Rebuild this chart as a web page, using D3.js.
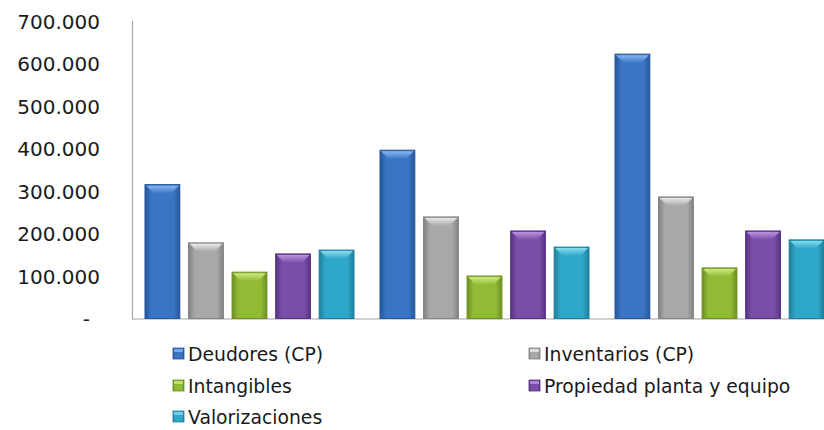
<!DOCTYPE html>
<html>
<head>
<meta charset="utf-8">
<script src="https://cdn.jsdelivr.net/npm/d3@7"></script>
<style>
  html, body { margin: 0; padding: 0; background: #ffffff; }
  svg { display: block; }
</style>
</head>
<body>
<div id="chart"></div>
<script>
// ---- data ----
const categories = ["Periodo 1", "Periodo 2", "Periodo 3"];
const seriesNames = ["Deudores (CP)", "Inventarios (CP)", "Intangibles", "Propiedad planta y equipo", "Valorizaciones"];
const deudores    = [315000, 396000, 622000];
const inventarios = [178000, 239000, 286000];
const intangibles = [109000, 100000, 119000];
const propiedad   = [152000, 206000, 206000];
const valorizaciones = [161000, 168000, 185000];
const yTicks = [0, 100000, 200000, 300000, 400000, 500000, 600000, 700000];

const seriesValues = [deudores, inventarios, intangibles, propiedad, valorizaciones];
const colors = [
  { base: "#3b74c2", light: "#86b7f0", dark: "#25579a" },
  { base: "#a8a8a8", light: "#e8e8e8", dark: "#828282" },
  { base: "#92bb35", light: "#cde880", dark: "#6c8f21" },
  { base: "#7a4ea6", light: "#b993e0", dark: "#583483" },
  { base: "#2ea7c8", light: "#86dbef", dark: "#1e7e99" }
];

const W = 824, H = 430;
const svg = d3.select("#chart").append("svg").attr("width", W).attr("height", H);
const defs = svg.append("defs");

colors.forEach((c, i) => {
  const g = defs.append("linearGradient").attr("id", "bar" + i)
    .attr("x1", "0").attr("x2", "1").attr("y1", "0").attr("y2", "0");
  g.append("stop").attr("offset", "0%").attr("stop-color", c.dark);
  g.append("stop").attr("offset", "18%").attr("stop-color", c.base);
  g.append("stop").attr("offset", "82%").attr("stop-color", c.base);
  g.append("stop").attr("offset", "100%").attr("stop-color", c.dark);
  const t = defs.append("linearGradient").attr("id", "top" + i)
    .attr("x1", "0").attr("x2", "0").attr("y1", "0").attr("y2", "1");
  t.append("stop").attr("offset", "0%").attr("stop-color", c.light);
  t.append("stop").attr("offset", "100%").attr("stop-color", c.base);
});

const x0 = d3.scaleBand().domain(categories).range([132, 837]).paddingInner(0).paddingOuter(0);
const x1 = d3.scaleBand().domain(seriesNames).range([13, 222]).paddingInner(0.2).paddingOuter(0);
const y = d3.scaleLinear().domain([0, 700000]).range([318.5, 21]);

// y axis labels
const fmt = v => v === 0 ? "-" : d3.format(",.0f")(v / 1000).replace(/,/g, ".") + ".000";
const yAxis = d3.axisLeft(y).tickValues(yTicks).tickFormat(fmt).tickSize(0).tickPadding(0);
const yg = svg.append("g").attr("transform", "translate(100,0)").call(yAxis);
yg.select(".domain").remove();
yg.selectAll("text")
  .attr("font-family", "'DejaVu Sans', Verdana, sans-serif")
  .attr("font-size", 20)
  .attr("fill", "#1a1a1a")
  .attr("dy", "0.36em")
  .attr("x", d => d === 0 ? -10 : 0);

// axis lines
svg.append("line").attr("x1", 132.5).attr("x2", 132.5).attr("y1", y(700000)).attr("y2", y(0) + 1)
  .attr("stroke", "#a6a6a6").attr("stroke-width", 1.2);
svg.append("line").attr("x1", 132).attr("x2", W).attr("y1", y(0) + 0.5).attr("y2", y(0) + 0.5)
  .attr("stroke", "#a6a6a6").attr("stroke-width", 1.2);

// bars
const groups = svg.append("g").selectAll("g").data(categories).join("g")
  .attr("transform", d => `translate(${x0(d)},0)`);

groups.each(function(cat, ci) {
  const g = d3.select(this);
  seriesNames.forEach((s, si) => {
    const v = seriesValues[si][ci];
    const bx = x1(s), bw = x1.bandwidth();
    const by = y(v), bh = y(0) - y(v);
    g.append("rect").attr("x", bx).attr("y", by).attr("width", bw).attr("height", bh)
      .attr("fill", `url(#bar${si})`).attr("stroke", colors[si].dark).attr("stroke-width", 1);
    const inset = 9, depth = 9;
    g.append("path")
      .attr("d", `M${bx + 1},${by + 1}L${bx + bw - 1},${by + 1}L${bx + bw - inset},${by + depth}L${bx + inset},${by + depth}Z`)
      .attr("fill", `url(#top${si})`);
  });
});

// legend
const legendPos = [
  { x: 173, y: 354 }, { x: 529, y: 354 },
  { x: 173, y: 386 }, { x: 529, y: 386 },
  { x: 173, y: 417 }
];
const lg = svg.append("g").selectAll("g").data(seriesNames).join("g")
  .attr("transform", (d, i) => `translate(${legendPos[i].x},${legendPos[i].y})`);
lg.append("rect").attr("x", 0).attr("y", -6).attr("width", 11).attr("height", 11)
  .attr("fill", (d, i) => `url(#bar${i})`).attr("stroke", (d, i) => colors[i].dark).attr("stroke-width", 0.8);
lg.append("rect").attr("x", 1).attr("y", -5).attr("width", 9).attr("height", 3)
  .attr("fill", (d, i) => colors[i].light).attr("opacity", 0.8);
lg.append("text").attr("x", 15).attr("y", 0).attr("dy", "0.36em")
  .attr("font-family", "'DejaVu Sans', Verdana, sans-serif")
  .attr("font-size", 18.8).attr("fill", "#1a1a1a")
  .text(d => d);
</script>
</body>
</html>
